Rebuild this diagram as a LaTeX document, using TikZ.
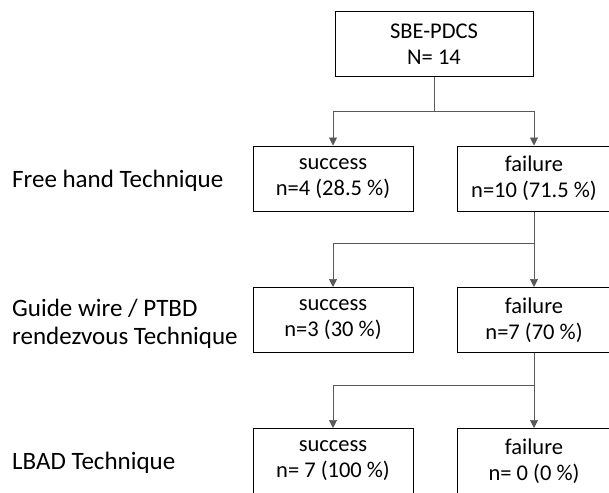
\documentclass[tikz,border=0pt]{standalone}
\usepackage{fontspec}
\setmainfont{Carlito}
\usetikzlibrary{positioning,arrows.meta}
\tikzstyle{flowChart} = [x = 1pt, y = -1pt, font=\fontsize{22.5}{26}\selectfont]
\tikzstyle{resultBox} = [draw=black, fill=white, line width=1pt, align=center, inner sep=0pt, minimum height=65pt]
\tikzstyle{flowLine} = [color=black!65, line width=0.7pt]
\tikzstyle{flowArrow} = [flowLine, -{Triangle[width=8pt,length=8pt]}]
\tikzstyle{techniqueText} = [anchor=west, align=left, inner sep=0pt, font=\fontsize{25}{28}\selectfont]
\newcommand{\branchLines}[4]{
  \draw [flowLine] (#1.south) -- ++(0,#4) coordinate (#1Split);
  \draw [flowArrow] (#1Split) -| (#2.north);
  \draw [flowArrow] (#1Split) -| (#3.north);
}

\begin{document}
\begin{tikzpicture}[flowChart]
  \useasboundingbox (0,0) rectangle (609,492);
  % boxes
  \node [resultBox, minimum width=198pt] (start) at (434,44.5) {SBE-PDCS\\N= 14};
  \node [resultBox, minimum width=160pt] (freeSuccess) at (333,178.5) {success\\n=4 (28.5 \%)};
  \node [resultBox, minimum width=154pt] (freeFailure) at (534,178.5) {failure\\n=10 (71.5 \%)};
  \node [resultBox, minimum width=160pt] (wireSuccess) at (333,320) {success\\n=3 (30 \%)};
  \node [resultBox, minimum width=154pt] (wireFailure) at (534,320) {failure\\n=7 (70 \%)};
  \node [resultBox, minimum width=160pt] (lbadSuccess) at (333,461) {success\\n= 7 (100 \%)};
  \node [resultBox, minimum width=154pt] (lbadFailure) at (534,461) {failure\\n= 0 (0 \%)};
  % connectors
  \branchLines{start}{freeSuccess}{freeFailure}{34}
  \branchLines{freeFailure}{wireSuccess}{wireFailure}{32}
  \branchLines{wireFailure}{lbadSuccess}{lbadFailure}{32}
  % technique labels
  \node [techniqueText] (freeHand) at (12,181) {Free hand Technique};
  \node [techniqueText] (guideWire) at (12,324) {Guide wire / PTBD\\rendezvous Technique};
  \node [techniqueText] (lbad) at (12,463) {LBAD Technique};
\end{tikzpicture}
\end{document}
